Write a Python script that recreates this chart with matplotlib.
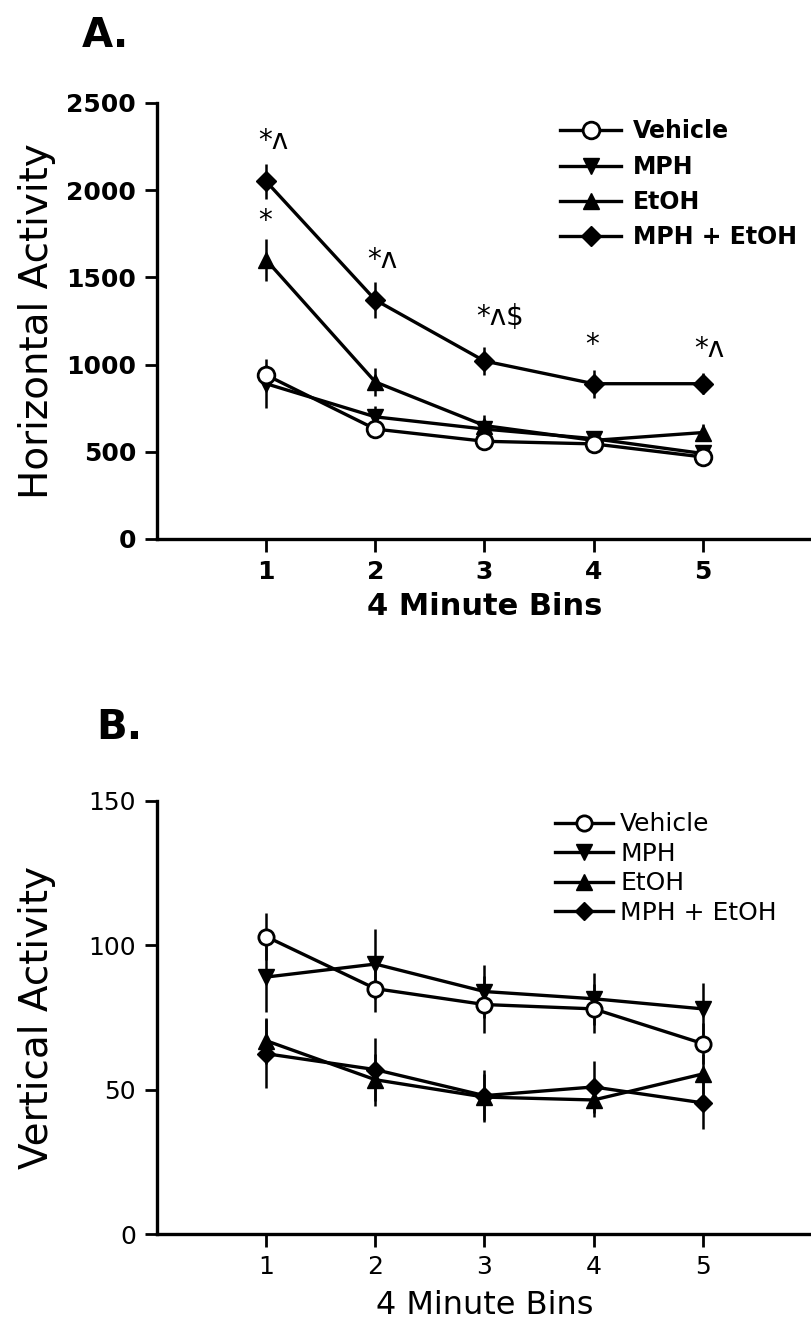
import matplotlib
matplotlib.use("Agg")
import matplotlib.pyplot as plt

plt.rcParams['font.family'] = ['DejaVu Sans']

bins = [1, 2, 3, 4, 5]
groups = ["Vehicle", "MPH", "EtOH", "MPH + EtOH"]

# Panel A: Horizontal activity (mean, SEM)
h_vehicle = [940, 630, 560, 545, 470]
h_vehicle_err = [60, 50, 40, 40, 35]
h_mph = [890, 700, 630, 575, 490]
h_mph_err = [140, 60, 50, 40, 40]
h_etoh = [1600, 900, 650, 565, 610]
h_etoh_err = [120, 80, 60, 40, 50]
h_combo = [2050, 1370, 1020, 890, 890]
h_combo_err = [100, 105, 80, 80, 60]

# Panel B: Vertical activity (mean, SEM)
v_vehicle = [103, 85, 79.5, 78, 66]
v_vehicle_err = [8, 8, 10, 8.5, 7]
v_mph = [89, 93.5, 84, 81.5, 78]
v_mph_err = [12, 12, 9, 9, 9]
v_etoh = [67, 53.5, 47.5, 46.5, 55.5]
v_etoh_err = [8, 9, 8, 6, 7]
v_combo = [62.5, 57, 48, 51, 45.5]
v_combo_err = [12, 11, 9, 9, 9]

# significance annotations (Panel A)
ann_text = ["*ʌ", "*", "*ʌ", "*ʌ$", "*", "*ʌ"]
ann_x = [1, 1, 2, 3, 4, 5]
ann_y = [2280, 1820, 1600, 1270, 1110, 1090]

fig = plt.figure(figsize=(8.12, 13.38), dpi=100)
axA = fig.add_axes([0.1933, 0.5972, 0.8067, 0.3259])
axB = fig.add_axes([0.1933, 0.0774, 0.8067, 0.3242])


def draw(ax, series, weight, ms, legend_fs, legend_spacing, legend_anchor,
         hlen, hpad):
    styles = {
        "Vehicle": dict(marker='o', mfc='white', mec='black', ms=ms, mew=2),
        "MPH": dict(marker='v', mfc='black', mec='black', ms=ms, mew=1),
        "EtOH": dict(marker='^', mfc='black', mec='black', ms=ms, mew=1),
        "MPH + EtOH": dict(marker='D', mfc='black', mec='black', ms=ms * 0.85, mew=1),
    }
    order = ["MPH", "EtOH", "Vehicle", "MPH + EtOH"]
    handles = {}
    for i, name in enumerate(order):
        y, e = series[name]
        ax.errorbar(bins, y, yerr=e, fmt='none', ecolor='black', elinewidth=1.8,
                    capsize=0, zorder=2 + i)
        h, = ax.plot(bins, y, color='black', lw=2.4, zorder=3 + i, **styles[name])
        handles[name] = h
    ax.set_xlim(0, 6)
    for s in ['top', 'right']:
        ax.spines[s].set_visible(False)
    for s in ['left', 'bottom']:
        ax.spines[s].set_linewidth(2.4)
    ax.set_xticks(bins)
    ax.tick_params(axis='both', direction='out', length=9, width=2,
                   labelsize=18, pad=6)
    for lab in ax.get_xticklabels() + ax.get_yticklabels():
        lab.set_fontweight(weight)
    leg = ax.legend([handles[g] for g in groups], groups, loc='upper left',
                    bbox_to_anchor=legend_anchor, frameon=False, numpoints=1,
                    borderpad=0, borderaxespad=0,
                    handlelength=hlen, handletextpad=hpad,
                    labelspacing=legend_spacing,
                    prop=dict(size=legend_fs, weight=weight))
    return leg


draw(axA, {"Vehicle": (h_vehicle, h_vehicle_err), "MPH": (h_mph, h_mph_err),
           "EtOH": (h_etoh, h_etoh_err), "MPH + EtOH": (h_combo, h_combo_err)},
     'bold', 12, 17, 0.48, (0.615, 0.962), 2.6, 0.5)
axA.set_ylim(0, 2500)
axA.set_yticks([0, 500, 1000, 1500, 2000, 2500])
for lab in axA.get_yticklabels():
    lab.set_fontweight('bold')
axA.set_xlabel("4 Minute Bins", fontsize=22, fontweight='bold', labelpad=6)
for t, x, y in zip(ann_text, ann_x, ann_y):
    axA.annotate(t, xy=(x, y), xytext=(-6, 0), textcoords='offset points',
                 ha='left', va='center', fontsize=20)

draw(axB, {"Vehicle": (v_vehicle, v_vehicle_err), "MPH": (v_mph, v_mph_err),
           "EtOH": (v_etoh, v_etoh_err), "MPH + EtOH": (v_combo, v_combo_err)},
     'normal', 11, 18, 0.22, (0.608, 0.973), 2.3, 0.3)
axB.set_ylim(0, 150)
axB.set_yticks([0, 50, 100, 150])
axB.set_xlabel("4 Minute Bins", fontsize=23, labelpad=8)

fig.text(0.045, 0.5972 + 0.3259 / 2, "Horizontal Activity", rotation=90,
         ha='center', va='center', fontsize=28)
fig.text(0.045, 0.0774 + 0.3242 / 2, "Vertical Activity", rotation=90,
         ha='center', va='center', fontsize=28)

fig.text(0.101, 0.973, "A.", fontsize=29, fontweight='bold', va='center')
fig.text(0.118, 0.456, "B.", fontsize=29, fontweight='bold', va='center')

fig.savefig("out.png", dpi=100)
